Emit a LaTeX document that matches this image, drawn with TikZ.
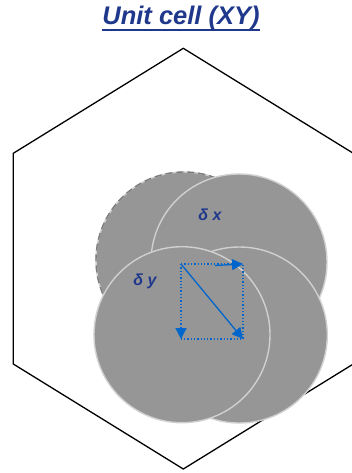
\documentclass[tikz,border=0pt]{standalone}
\usepackage{fontspec}
\setmainfont{Liberation Sans}
\usetikzlibrary{arrows.meta}
\definecolor{titleblue}{RGB}{31,56,140}
\definecolor{vecblue}{RGB}{0,102,204}
\definecolor{discfill}{RGB}{150,150,150}
\definecolor{discline}{RGB}{208,208,208}
\definecolor{dashline}{RGB}{125,125,125}
\tikzset{
  disc/.style={draw=discline,fill=discfill,line width=1.4pt},
  vec/.style={vecblue,line width=1.3pt,-{Triangle[length=11pt,width=11pt]}},
  guide/.style={vecblue,line width=1.3pt,dotted},
  lbl/.style={text=titleblue,font=\bfseries\itshape\fontsize{16}{18}\selectfont}
}
\begin{document}
\begin{tikzpicture}[x=1pt,y=-1pt]
\useasboundingbox (0,0) rectangle (351,473);
% objects at depth 100:
\path[draw=black,line width=1.3pt] (183.3,48.3) -- (353.3,153.3) -- (353.3,364)
  -- (183.3,469) -- (13.3,364) -- (13.3,153.3) -- cycle;
\node[text=titleblue,inner sep=0pt,anchor=base,font=\bfseries\itshape\fontsize{25.5}{28}\selectfont] (title) at (181,25) {Unit cell (XY)};
\draw[titleblue,line width=2pt] ([yshift=-5pt]title.base west) -- ([yshift=-5pt]title.base east);
% objects at depth 50:
\path[disc] (184,260) circle (88);
\path[draw=dashline,line width=1.4pt,dash pattern=on 7pt off 4pt] (184,260) circle (88);
\path[disc] (239,262) circle (88);
\path[disc] (239.3,335) circle (88);
\path[disc] (182,334.7) circle (88);
% objects at depth 10:
\coordinate (o) at (181,264);
\coordinate (x) at (243,264);
\coordinate (y) at (181,339);
\coordinate (d) at (243,339);
\coordinate (m) at (215,265.5);
\draw[guide] (o) -- (x) -- (d) -- (y);
\draw[guide,-{Triangle[length=11pt,width=11pt]}] (o) -- (y);
\draw[vec] (m) -- (x);
\draw[vec] (o) -- (d);
\node[lbl] (dx) at (210,215) {δ x};
\node[lbl] (dy) at (145,281) {δ y};
\end{tikzpicture}
\end{document}
